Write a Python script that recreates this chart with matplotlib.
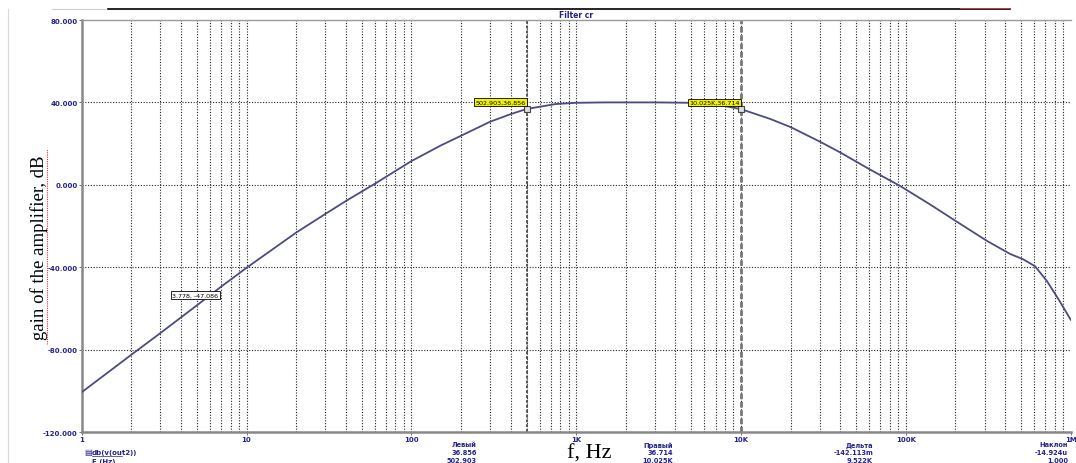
import numpy as np
import matplotlib
matplotlib.use("Agg")
import matplotlib.pyplot as plt
from matplotlib.lines import Line2D
from matplotlib.ticker import FixedLocator, NullFormatter

# частотная характеристика
freq_hz = [1, 2, 3, 5, 7, 10, 14, 20, 30, 40, 60, 100, 150, 200, 300, 400, 500,
           750, 1000, 1500, 3000, 5000, 7000, 10025, 15000, 20000, 30000, 40000,
           60000, 92000, 140000, 200000, 310000, 430000, 513000, 607000, 717000,
           850000, 1000000]
gain_db = [-100.7, -82.5, -72.0, -58.5, -49.5, -40.3, -32.0, -23.2, -14.2, -7.9,
           0.5, 11.5, 19.0, 23.8, 30.6, 34.3, 36.8, 39.2, 39.8, 40.0, 40.0, 39.8,
           39.1, 36.7, 32.0, 28.0, 21.0, 15.7, 7.6, -0.5, -9.5, -17.5, -27.2,
           -33.6, -36.1, -39.5, -46.7, -56.0, -65.5]

y_ticks = [80, 40, 0, -40, -80, -120]
y_tick_labels = ["80.000", "40.000", "0.000", "-40.000", "-80.000", "-120.000"]
x_ticks = [1, 10, 100, 1e3, 1e4, 1e5, 1e6]
x_tick_labels = ["1", "10", "100", "1K", "10K", "100K", "1M"]

cursor_left = (502.903, 36.856)
cursor_right = (10025, 36.714)
marker3 = (3.778, -47.086)

readout = [("Левый", "36.856", "502.903"),
           ("Правый", "36.714", "10.025K"),
           ("Дельта", "-142.113m", "9.522K"),
           ("Наклон", "-14.924u", "1.000")]

navy = "#23238a"
curve_col = "#4b4b82"

fig = plt.figure(figsize=(10.76, 4.64), dpi=100)
ax = fig.add_axes([81.7 / 1076, 1 - 433 / 464, 989 / 1076, 412 / 464])

ax.set_xscale("log")
ax.set_xlim(1, 1e6)
ax.set_ylim(-120, 80)

# сетка: декады + промежуточные
minor = [m * 10 ** d for d in range(6) for m in range(2, 10)]
for xv in x_ticks[1:-1] + minor:
    ax.axvline(xv, color="#222222", lw=0.8, ls=(0, (1, 1.5)), zorder=1)
for yv in y_ticks[1:-1]:
    ax.axhline(yv, color="#222222", lw=0.8, ls=(0, (1, 1.5)), zorder=1)

# курсоры
ax.axvline(cursor_left[0], color="#555555", lw=1.4, ls=(0, (1.5, 1)), zorder=1)
ax.axvline(cursor_right[0], color="#777777", lw=2.0, ls=(0, (2, 1)), zorder=1)

ax.plot(freq_hz, gain_db, color=curve_col, lw=1.3, zorder=3)

for cx, cy in [cursor_left, cursor_right]:
    ax.plot(cx, cy, marker="s", ms=5, mfc="#dddddd", mec="#444444", mew=0.8, zorder=4)

ax.text(cursor_left[0] * 0.98, cursor_left[1] + 3.3, "502.903,36.856", ha="right", va="center",
        fontsize=4.6, zorder=5,
        bbox=dict(boxstyle="square,pad=0.2", fc="#f2f200", ec="black", lw=0.6))
ax.text(cursor_right[0] * 0.98, cursor_right[1] + 3.3, "10.025K,36.714", ha="right", va="center",
        fontsize=4.6, zorder=5,
        bbox=dict(boxstyle="square,pad=0.2", fc="#f2f200", ec="black", lw=0.6))
ax.text(4.9, -53.5, "%.3f, %.3f" % marker3, ha="center", va="center", fontsize=4.6, zorder=5,
        bbox=dict(boxstyle="square,pad=0.2", fc="white", ec="black", lw=0.6))

ax.xaxis.set_minor_formatter(NullFormatter())
ax.xaxis.set_minor_locator(FixedLocator([]))
ax.set_xticks(x_ticks)
ax.set_xticklabels(x_tick_labels)
ax.set_yticks(y_ticks)
ax.set_yticklabels(y_tick_labels)
ax.tick_params(axis="both", length=2, width=0.6, colors="#555555", labelcolor=navy,
               labelsize=5, pad=1)
for lab in ax.get_xticklabels() + ax.get_yticklabels():
    lab.set_fontweight("bold")

for side in ["left", "bottom"]:
    ax.spines[side].set_color("#888888")
    ax.spines[side].set_linewidth(1.8)
ax.spines["top"].set_color("#999999")
ax.spines["top"].set_linewidth(1.0)
ax.spines["right"].set_visible(False)

ax.set_title("Filter cr", fontsize=5.5, color=navy, fontweight="bold", pad=2)

# рамка окна
fig.add_artist(Line2D([108 / 1076, 1010 / 1076], [1 - 10 / 464] * 2, color="black", lw=1.2))
fig.add_artist(Line2D([52 / 1076, 105 / 1076], [1 - 10 / 464] * 2, color="#cccccc", lw=0.8))
fig.add_artist(Line2D([960 / 1076, 1010 / 1076], [1 - 9 / 464] * 2, color="#e04040", lw=0.6))
fig.add_artist(Line2D([8 / 1076, 8 / 1076], [0, 1 - 10 / 464], color="#d8d8d8", lw=0.8))

# подписи курсоров внизу (выравнивание по правому краю)
for (name, v1, v2), xr in zip(readout, [477, 673, 873, 1068]):
    for k, s in enumerate([name, v1, v2]):
        fig.text(xr / 1076, 1 - (445.5 + 8 * k) / 464, s, ha="right", va="center",
                 fontsize=4.8, color=navy, fontweight="bold")

fig.text(84 / 1076, 1 - 453 / 464, "\u25a4", fontsize=6, color=navy, ha="left", va="center")
fig.text(92 / 1076, 1 - 453 / 464, "db(v(out2))", fontsize=5, color=navy, ha="left",
         va="center", fontweight="bold")
fig.add_artist(Line2D([92 / 1076, 122 / 1076], [1 - 457 / 464] * 2, color=navy, lw=0.5))
fig.text(92 / 1076, 1 - 462 / 464, "F (Hz)", fontsize=5, color=navy, ha="left",
         va="center", fontweight="bold")

# подписи осей
fig.text(589 / 1076, 1 - 454 / 464, "f, Hz", fontsize=16, family="Liberation Serif",
         ha="center", va="center")
fig.text(39 / 1076, 1 - 248 / 464, "gain of the amplifier, dB", fontsize=13.5,
         family="Liberation Serif", rotation=90, ha="center", va="center")
fig.add_artist(Line2D([47 / 1076] * 2, [1 - 345 / 464, 1 - 150 / 464], color="#e03030",
                      lw=0.8, ls=(0, (1, 1))))

fig.savefig("out.png", dpi=100)
